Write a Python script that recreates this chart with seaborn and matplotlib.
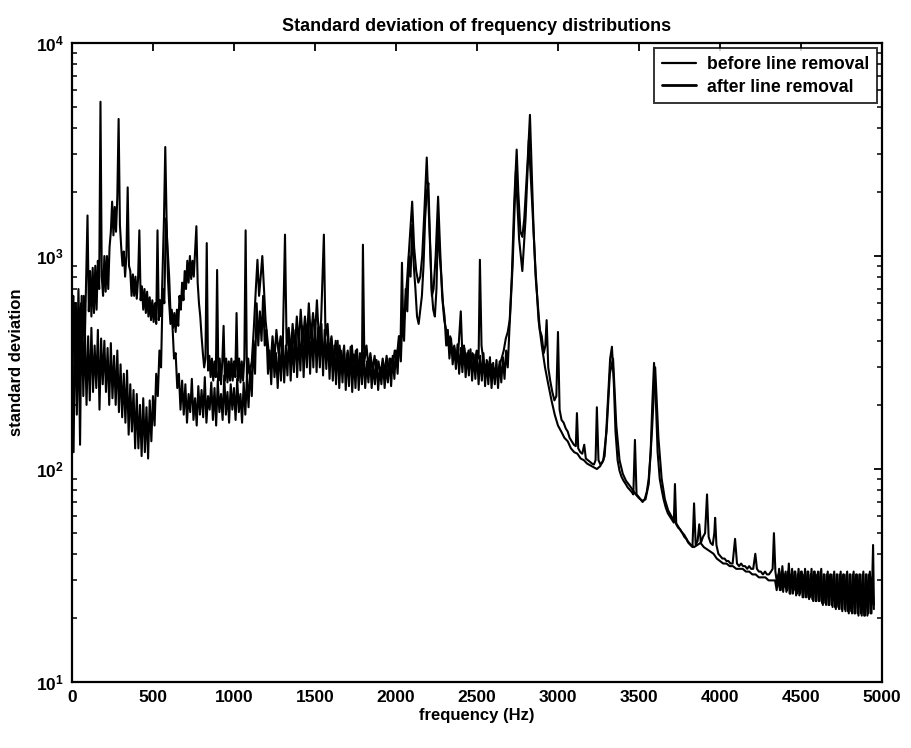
import matplotlib
matplotlib.use("Agg")
import matplotlib.pyplot as plt
import matplotlib.ticker as mticker
from matplotlib.lines import Line2D
import numpy as np
import pandas as pd
import seaborn as sns

# ---------------- data ----------------
after_freq = list(range(0, 2700, 10)) + list(range(2700, 4340, 20)) + list(range(4340, 4960, 10))
after_std = [
    # 0 - 990 Hz
    350, 120, 600, 180, 500, 130, 650, 220, 450, 200,
    420, 210, 460, 230, 380, 240, 450, 190, 410, 250,
    400, 230, 370, 200, 390, 215, 340, 200, 360, 185,
    310, 175, 280, 165, 290, 145, 250, 150, 235, 125,
    225, 125, 200, 115, 215, 120, 195, 112, 210, 135,
    220, 160, 280, 220, 360, 300, 700, 600, 1500, 1100,
    800, 500, 480, 330, 350, 240, 280, 190, 260, 180,
    250, 165, 225, 185, 265, 170, 215, 160, 245, 180,
    235, 175, 270, 165, 220, 190, 255, 170, 240, 160,
    260, 185, 225, 170, 275, 180, 230, 165, 250, 190,
    # 1000 - 1990 Hz
    240, 170, 265, 185, 225, 165, 255, 180, 270, 195,
    300, 220, 400, 280, 600, 380, 550, 400, 650, 380,
    450, 280, 360, 250, 390, 270, 350, 240, 380, 260,
    410, 255, 380, 275, 440, 260, 400, 285, 450, 270,
    430, 290, 470, 270, 450, 300, 490, 280, 460, 300,
    500, 285, 460, 300, 480, 275, 450, 295, 430, 265,
    410, 260, 380, 250, 400, 240, 360, 255, 380, 235,
    350, 245, 375, 230, 345, 240, 365, 235, 340, 250,
    350, 240, 320, 255, 335, 240, 310, 250, 325, 235,
    300, 250, 320, 240, 305, 255, 330, 245, 340, 265,
    # 2000 - 2690 Hz
    360, 280, 420, 320, 520, 400, 700, 550, 1000, 800,
    1400, 900, 700, 520, 480, 560, 650, 900, 1500, 2000,
    2200, 1200, 700, 560, 520, 700, 1500, 1000, 800, 600,
    520, 380, 450, 330, 410, 310, 370, 295, 385, 280,
    370, 285, 380, 270, 350, 275, 365, 260, 345, 265,
    355, 250, 340, 260, 350, 245, 325, 250, 335, 240,
    315, 250, 325, 240, 320, 255, 335, 265, 360, 300,
    # 2700 - 4320 Hz (20 Hz bins)
    450, 900, 2500, 1200, 850, 1500, 3500, 1800, 900, 500, 380, 300, 250, 210, 180,
    160, 150, 140, 135, 125, 120, 118, 112, 110, 106, 104, 102, 100, 103, 110,
    150, 280, 330, 160, 110, 95, 88, 84, 80, 76, 73, 71, 72, 85, 150,
    300, 140, 90, 72, 64, 60, 57, 54, 51, 49, 46, 44, 43, 44, 45,
    43, 42, 41, 40, 38, 37, 36, 36, 35, 35, 34, 34, 34, 33, 33,
    32, 32, 31, 31, 31, 30, 30,
    # 4340 - 4950 Hz
    30, 27, 32, 27, 33, 26.5, 32, 26.5, 33, 26, 32, 26, 33, 25.5, 32, 25.5,
    33, 25, 32, 25, 33, 24.5, 32, 24.5, 33, 24, 32, 24, 33, 23.5, 32, 23.5,
    32, 23, 32, 23, 32, 22.5, 32, 22.5, 32, 22, 32, 22, 32, 21.5, 32, 21.5,
    32, 21, 32, 21, 32, 21, 32, 20.5, 32, 20.5, 32, 21, 31, 22,
]

# "before" trace: 8 Hz bins up to 1096 Hz, then individually read points
before_freq = list(range(0, 1100, 8)) + [
    1110,
    1122, 1135, 1145, 1155, 1165, 1175, 1185, 1195, 1205, 1215, 1225, 1238, 1250, 1262, 1275, 1288,
    1300, 1315, 1325, 1338, 1350, 1362, 1375, 1388, 1400, 1412, 1425, 1438, 1450, 1462, 1475, 1488,
    1500, 1512, 1525, 1538, 1555, 1565, 1578, 1590, 1602, 1615, 1628, 1640, 1652, 1665, 1678, 1690,
    1702, 1715, 1728, 1740, 1752, 1765, 1778, 1790, 1796, 1805, 1818, 1830, 1842, 1855, 1868, 1880,
    1892, 1905, 1918, 1930, 1942, 1955, 1968, 1980, 1992, 2005, 2018, 2028, 2037, 2045, 2058, 2070,
    2085, 2100, 2112, 2125, 2138, 2150, 2162, 2175, 2190, 2200, 2212, 2222, 2232, 2245, 2260, 2272,
    2285, 2298, 2310, 2322, 2335, 2348, 2360, 2372, 2385, 2400, 2410, 2422, 2435, 2448, 2460, 2472,
    2485, 2498, 2510, 2518, 2528, 2540, 2552, 2565, 2578, 2590, 2602, 2615, 2628, 2640, 2652, 2665,
    2678, 2690, 2702, 2715, 2730, 2745, 2755, 2768, 2780, 2792, 2805, 2815, 2827, 2838, 2850, 2862,
    2875, 2888, 2900, 2912, 2922, 2930, 2940, 2952, 2965, 2978, 2990, 3000, 3010, 3022, 3035, 3048,
    3060, 3072, 3085, 3098, 3110, 3117, 3125, 3138, 3150, 3162, 3172, 3185, 3198, 3210, 3222, 3232,
    3240, 3250, 3262, 3275, 3288, 3300, 3312, 3322, 3333, 3345, 3355, 3368, 3380, 3392, 3405, 3418,
    3430, 3442, 3455, 3465, 3475, 3485, 3498, 3510, 3522, 3535, 3548, 3560, 3572, 3582, 3593, 3605,
    3615, 3628, 3640, 3652, 3665, 3678, 3690, 3702, 3715, 3722, 3730, 3742, 3755, 3768, 3780, 3792,
    3805, 3818, 3830, 3840, 3850, 3862, 3872, 3882, 3895, 3908, 3920, 3930, 3942, 3955, 3965, 3970,
    3978, 3990, 4002, 4015, 4028, 4040, 4052, 4065, 4078, 4093, 4105, 4118, 4130, 4142, 4155, 4168,
    4180, 4192, 4205, 4218, 4228, 4240, 4252, 4265, 4278, 4290, 4302, 4315, 4325, 4333, 4342, 4355,
    4365, 4375, 4385, 4395, 4405, 4415, 4425, 4435, 4445, 4455, 4465, 4475, 4485, 4495, 4505, 4515,
    4525, 4535, 4545, 4555, 4565, 4575, 4585, 4595, 4605, 4615, 4625, 4635, 4645, 4655, 4665, 4675,
    4685, 4695, 4705, 4715, 4725, 4735, 4745, 4755, 4765, 4775, 4785, 4795, 4805, 4815, 4825, 4835,
    4845, 4855, 4865, 4875, 4885, 4895, 4905, 4915, 4925, 4935, 4945, 4950,
]
before_std = [
    # 0 - 1096 Hz (8 Hz bins)
    400, 650, 250, 600, 300, 700, 330, 600, 350, 650,
    420, 800, 1550, 550, 850, 520, 880, 540, 900, 560,
    950, 700, 5300, 800, 650, 1000, 680, 1000, 700, 1100,
    1300, 1800, 1250, 1700, 1300, 1900, 4400, 1400, 1100, 900,
    1050, 800, 1000, 2100, 900, 850, 650, 820, 650, 800,
    630, 780, 1320, 620, 720, 560, 700, 540, 680, 520,
    640, 500, 620, 490, 600, 480, 1320, 500, 620, 520,
    900, 1500, 3250, 1500, 800, 600, 480, 560, 460, 540,
    440, 560, 470, 650, 560, 750, 620, 850, 700, 950,
    750, 1000, 780, 950, 800, 1050, 1380, 750, 600, 520,
    420, 350, 300, 330, 1150, 290, 340, 270, 330, 260,
    320, 270, 860, 260, 330, 250, 320, 470, 260, 330,
    255, 320, 260, 330, 260, 320, 270, 540, 260, 330,
    255, 320, 260, 330, 1320, 270, 330, 280,
    # 1110 Hz onwards
    320,
    450, 700, 960, 650, 800, 1000, 700, 500, 420, 350, 300, 420, 330, 450, 350, 420,
    340, 1260, 380, 460, 340, 480, 360, 520, 380, 560, 390, 520, 400, 600, 410, 540,
    420, 620, 400, 500, 1260, 420, 480, 330, 420, 310, 400, 300, 380, 290, 370, 280,
    360, 290, 380, 280, 360, 290, 350, 300, 1130, 320, 380, 300, 350, 290, 340, 280,
    320, 275, 330, 280, 340, 290, 330, 300, 360, 330, 420, 380, 930, 450, 600, 800,
    1200, 1800, 1100, 850, 750, 800, 1000, 1600, 2900, 1800, 1000, 650, 700, 1000, 1900, 1100,
    650, 500, 450, 380, 420, 350, 380, 320, 360, 550, 340, 370, 310, 360, 300, 350,
    310, 360, 330, 960, 380, 320, 300, 320, 280, 310, 275, 300, 280, 310, 330, 360,
    410, 440, 500, 800, 1800, 3160, 2000, 1300, 1230, 1500, 2200, 3000, 4600, 2500, 1290, 800,
    600, 450, 420, 350, 380, 500, 300, 260, 230, 210, 220, 440, 190, 170, 165, 155,
    150, 140, 135, 130, 128, 183, 125, 120, 118, 130, 112, 110, 108, 106, 105, 110,
    195, 110, 105, 108, 115, 160, 240, 330, 375, 250, 150, 110, 98, 92, 88, 85,
    82, 80, 78, 76, 137, 76, 74, 72, 70, 72, 78, 90, 120, 200, 315, 200,
    120, 90, 80, 72, 66, 62, 60, 58, 56, 85, 55, 53, 52, 50, 48, 47,
    45, 44, 43, 69, 44, 46, 55, 45, 48, 50, 76, 48, 45, 44, 50, 59,
    44, 40, 39, 38, 38, 37, 37, 36, 36, 47, 36, 35, 36, 35, 35, 34,
    35, 34, 34, 40, 34, 33, 33, 32, 33, 32, 32, 33, 34, 50, 33, 28,
    34, 27, 35, 28, 33, 27, 36, 26, 34, 27, 33, 26, 34, 26, 33, 25,
    34, 25, 33, 25, 34, 24, 33, 24, 33, 24, 34, 23, 32, 23, 33, 23,
    32, 22.5, 33, 22, 32, 22, 33, 21.5, 32, 21.5, 33, 21, 32, 21, 33, 21,
    32, 20.5, 32, 20.5, 33, 20.5, 32, 21, 33, 21, 44, 23,
]

x_ticks = [0, 500, 1000, 1500, 2000, 2500, 3000, 3500, 4000, 4500, 5000]
series_names = ["before line removal", "after line removal"]

df = pd.concat([
    pd.DataFrame({"freq": before_freq, "std": before_std, "series": series_names[0]}),
    pd.DataFrame({"freq": after_freq, "std": after_std, "series": series_names[1]}),
], ignore_index=True)

# ---------------- style ----------------
sns.set_theme(style="white")
plt.rcParams["font.family"] = ["Liberation Sans", "DejaVu Sans"]
plt.rcParams["mathtext.default"] = "regular"
for key in ["text.color", "axes.labelcolor", "xtick.color", "ytick.color"]:
    plt.rcParams[key] = "black"

fig = plt.figure(figsize=(9.12, 7.48), dpi=100)
ax = fig.add_axes([0.0789, 0.0882, 0.9671 - 0.0789, 0.9425 - 0.0882])

sns.lineplot(data=df, x="freq", y="std", hue="series", hue_order=series_names,
             palette=["black", "black"], estimator=None, sort=False,
             linewidth=1.5, ax=ax, legend=False)

ax.set_yscale("log")
ax.set_xlim(0, 5000)
ax.set_ylim(10, 10000)
ax.set_xticks(x_ticks)
ax.set_xticklabels([str(t) for t in x_ticks])
ax.yaxis.set_major_locator(mticker.LogLocator(base=10, numticks=10))
ax.yaxis.set_minor_locator(mticker.LogLocator(base=10, subs=np.arange(2, 10), numticks=10))
ax.yaxis.set_major_formatter(mticker.LogFormatterMathtext())
ax.yaxis.set_minor_formatter(mticker.NullFormatter())

ax.tick_params(axis="both", which="major", direction="in", length=6, width=1.3,
               top=True, right=True, labelsize=12.5, pad=6, colors="black")
ax.tick_params(axis="y", which="minor", direction="in", length=3.5, width=1.1,
               left=True, right=True, colors="black")
for lab in ax.get_xticklabels() + ax.get_yticklabels():
    lab.set_fontweight("bold")

for s in ax.spines.values():
    s.set_color("black")
    s.set_linewidth(1.6)

ax.set_title("Standard deviation of frequency distributions", fontsize=13,
             fontweight="bold", pad=9, color="black")
ax.set_xlabel("frequency (Hz)", fontsize=12, fontweight="bold", labelpad=2)
ax.set_ylabel("standard deviation", fontsize=12, fontweight="bold", labelpad=8)

handles = [Line2D([0], [0], color="black", lw=1.6),
           Line2D([0], [0], color="black", lw=2.0)]
leg = ax.legend(handles, series_names, loc="upper right", fontsize=12.7,
                frameon=True, fancybox=False, shadow=False, borderaxespad=0.3,
                handlelength=1.9, handletextpad=0.6, labelspacing=0.3,
                borderpad=0.45)
leg.get_frame().set_edgecolor("black")
leg.get_frame().set_linewidth(1.4)
for t in leg.get_texts():
    t.set_fontweight("bold")
    t.set_color("black")

fig.savefig("out.png", dpi=100, facecolor="white")
